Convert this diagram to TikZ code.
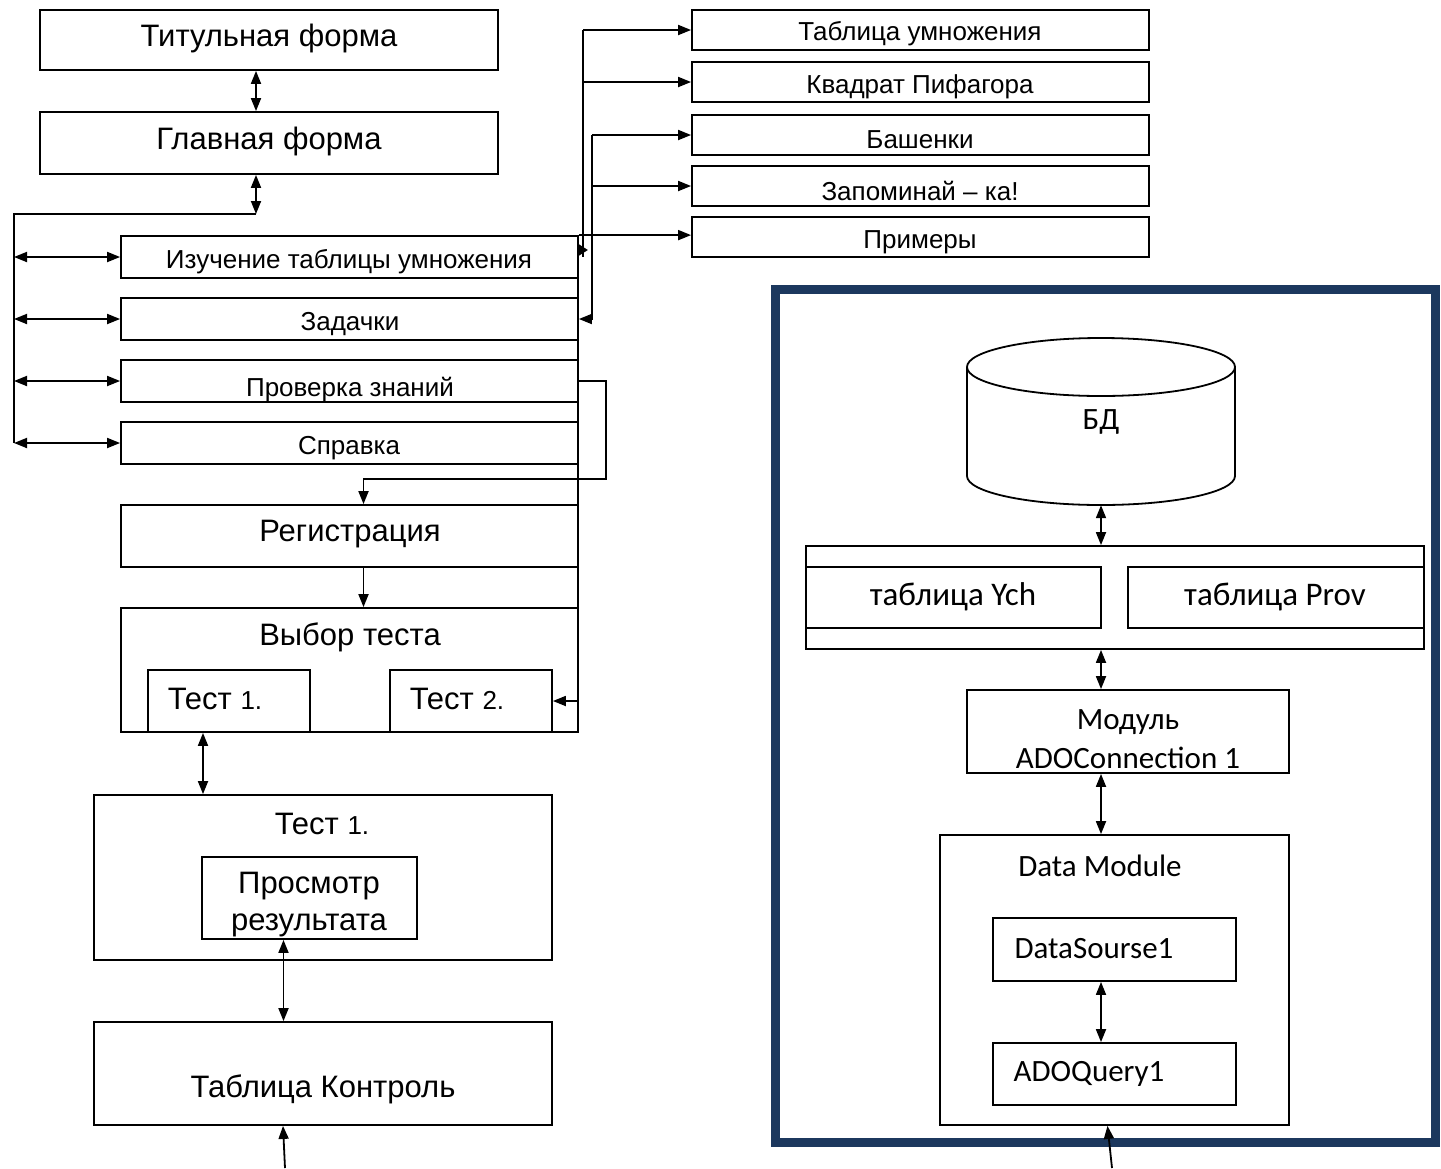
\documentclass[tikz,border=0pt]{standalone}
\usepackage{fontspec}
\setmainfont{Liberation Sans}
\newfontfamily\calib{Carlito}
\usetikzlibrary{arrows.meta,fit,calc}
\definecolor{frameblue}{RGB}{28,56,94}
\begin{document}
\begin{tikzpicture}[x=1pt,y=-1pt,
  box/.style={draw,line width=1.8pt,inner sep=0pt},
  ln/.style={line width=1.8pt},
  tip/.style={ln,-{Triangle[length=13pt,width=10pt]}},
  dtip/.style={ln,{Triangle[length=13pt,width=10pt]}-{Triangle[length=13pt,width=10pt]}},
  big/.style={font=\fontsize{31}{37}\selectfont,inner sep=0pt},
  mid/.style={font=\fontsize{26}{30}\selectfont,inner sep=0pt},
  cal/.style={font=\calib\fontsize{31}{39}\selectfont,inner sep=0pt}]
\useasboundingbox (0,0) rectangle (1441,1168);
\fill[white] (0,0) rectangle (1441,1168);

% ---------- left column ----------
\node[box,fit={(40,10)(498,70)}] (tit) {};
\node[big] (tit-t) at (269,38) {Титульная форма};
\node[box,fit={(40,112)(498,174)}] (glav) {};
\node[big] (glav-t) at (269,141) {Главная форма};

\node[box,fit={(121,236)(578,278)}] (izuch) {};
\node[mid] (izuch-t) at (349,262) {Изучение таблицы умножения};
\node[box,fit={(121,298)(578,340)}] (zad) {};
\node[mid] (zad-t) at (350,324) {Задачки};
\node[box,fit={(121,360)(578,402)}] (prov) {};
\node[mid] (prov-t) at (350,390) {Проверка знаний};
\node[box,fit={(121,422)(578,464)}] (sprav) {};
\node[mid] (sprav-t) at (349,448) {Справка};

\node[box,fit={(121,505)(578,567)}] (reg) {};
\node[big] (reg-t) at (350,534) {Регистрация};
\node[box,fit={(121,608)(578,732)}] (vybor) {};
\node[big] (vybor-t) at (350,637) {Выбор теста};
\node[box,fill=white,fit={(148,670)(310,732)}] (t1s) {};
\node[big] (t1s-t) at (215,699) {Тест {\fontsize{26}{30}\selectfont 1.}};
\node[box,fill=white,fit={(390,670)(552,732)}] (t2s) {};
\node[big] (t2s-t) at (457,699) {Тест {\fontsize{26}{30}\selectfont 2.}};

\node[box,fit={(94,795)(552,960)}] (t1b) {};
\node[big] (t1b-t) at (322,824) {Тест {\fontsize{26}{30}\selectfont 1.}};
\node[box,fit={(202,857)(417,939)}] (prosm) {};
\node[big,align=center] (prosm-t) at (309,905) {Просмотр\\результата};
\node[box,fit={(94,1022)(552,1125)}] (kontr) {};
\node[big] (kontr-t) at (323,1089) {Таблица Контроль};

% ---------- top right list ----------
\node[box,fit={(692,10)(1149,50)}] (tabl) {};
\node[mid] (tabl-t) at (920,34) {Таблица умножения};
\node[box,fit={(692,62)(1149,102)}] (kvad) {};
\node[mid] (kvad-t) at (920,87) {Квадрат Пифагора};
\node[box,fit={(692,115)(1149,155)}] (bash) {};
\node[mid] (bash-t) at (920,140) {Башенки};
\node[box,fit={(692,166)(1149,206)}] (zap) {};
\node[mid] (zap-t) at (920,191) {Запоминай – ка!};
\node[box,fit={(692,217)(1149,257)}] (prim) {};
\node[mid] (prim-t) at (920,242) {Примеры};

% ---------- left connectors ----------
\draw[dtip] ([xshift=-13pt]tit.south) -- ([xshift=-13pt]glav.north);
\coordinate (busR) at (256,214);
\coordinate (busL) at (14,214);
\draw[dtip] ([xshift=-13pt]glav.south) -- (busR);
\draw[ln] (busR) -- (busL) -- (busL |- sprav.west);
\foreach \n in {izuch,zad,prov,sprav}
  \draw[dtip] (busL |- \n.west) -- (\n.west);

\draw[tip] (prov.east) -- ++(27,0) |- ($([xshift=14pt]reg.north)+(0,-25)$) -- ([xshift=14pt]reg.north);
\draw[tip] ([xshift=14pt]reg.south) -- ([xshift=14pt]vybor.north);
\draw[tip] ([xshift=-1pt]izuch.north east) |- (t2s.east);
\draw[dtip] ([xshift=-26pt]t1s.south) -- ([xshift=-26pt]t1s.south |- t1b.north);
\draw[dtip] ([xshift=-26pt]prosm.south) -- ([xshift=-26pt]prosm.south |- kontr.north);
\coordinate (inK) at (285,1168);
\draw[tip] (inK) -- ([xshift=-40pt]kontr.south);

% ---------- top right connectors ----------
\coordinate (jA) at (583,30);
\draw[tip] (jA) -- (tabl.west);
\draw[ln] (jA) -- (jA |- izuch.east);
\draw[tip] (jA |- kvad.west) -- (kvad.west);
\draw[ln,-{Triangle[length=9pt,width=11pt]}] ([yshift=7pt]izuch.east) -- ++(9,0);
\coordinate (jB) at (592,135);
\draw[tip] (jB) -- (bash.west);
\draw[tip] (jB) |- (zad.east);
\draw[tip] (jB |- zap.west) -- (zap.west);
\draw[tip] (izuch.north east) -- (izuch.north east -| prim.west);

% ---------- right panel ----------
\node[draw=frameblue,line width=9pt,inner sep=0pt,fit={(775,289)(1435,1142)}] (frame) {};

\draw[ln,fill=white] (967,367) -- (967,476) arc[start angle=180,end angle=0,x radius=134,y radius=29] -- (1235,367);
\draw[ln] (1101,367) ellipse [x radius=134,y radius=29];
\node[inner sep=0pt,fit={(967,338)(1235,505)}] (db) {};
\node[cal] (db-t) at (1101,422) {БД};

\node[box,fit={(806,546)(1424,649)}] (tabs) {};
\node[box,fit={(806,567)(1101,628)}] (ych) {};
\node[cal,font=\calib\fontsize{33}{39}\selectfont] (ych-t) at (953,597) {таблица Ych};
\node[box,fit={(1128,567)(1424,628)}] (prv) {};
\node[cal,font=\calib\fontsize{33}{39}\selectfont] (prv-t) at (1275,597) {таблица Prov};

\node[box,fit={(967,690)(1289,773)}] (modul) {};
\node[cal,align=center] (modul-t) at (1128,739) {Модуль\\ADOConnection 1};
\node[box,fit={(940,835)(1289,1125)}] (dm) {};
\node[cal] (dm-t) at (1100,866) {Data Module};
\node[box,fit={(993,918)(1236,981)}] (ds) {};
\node[cal] (ds-t) at (1094,949) {DataSourse1};
\node[box,fit={(993,1043)(1236,1105)}] (aq) {};
\node[cal] (aq-t) at (1089,1074) {ADOQuery1};

\draw[dtip] (db.south) -- (db.south |- tabs.north);
\draw[dtip] (db.south |- tabs.south) -- (db.south |- modul.north);
\draw[dtip] (db.south |- modul.south) -- (db.south |- dm.north);
\draw[dtip] (db.south |- ds.south) -- (db.south |- aq.north);
\coordinate (inDM) at (1112,1168);
\draw[tip] (inDM) -- ([xshift=-7pt]dm.south);
\end{tikzpicture}
\end{document}
